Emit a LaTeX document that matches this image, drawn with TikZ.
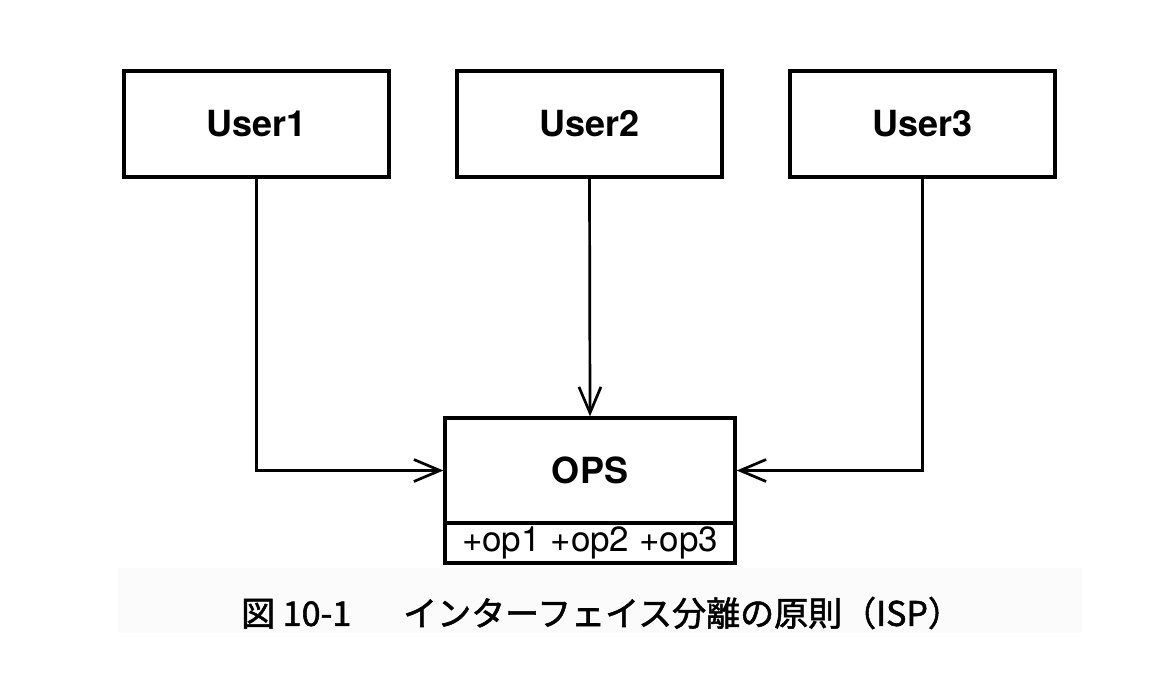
\documentclass[tikz,border=0pt]{standalone}
\usepackage{fontspec}
\setmainfont{TeX Gyre Heros}
\newfontfamily\cjk{Noto Sans CJK JP}
\usetikzlibrary{arrows.meta}
\begin{document}
\begin{tikzpicture}[x=1pt,y=-1pt,
  box/.style={draw, line width=3.3pt, minimum width=265pt, minimum height=106pt, inner sep=0pt, font=\fontsize{36}{40}\selectfont\bfseries},
  opsbox/.style={draw, line width=3.3pt, minimum width=290pt, minimum height=105pt, inner sep=0pt, font=\fontsize{36}{40}\selectfont\bfseries},
  opsmeth/.style={draw, line width=3.3pt, minimum width=290pt, minimum height=40pt, inner sep=0pt, font=\fontsize{35}{38}\selectfont},
  conn/.style={line width=2.7pt, -{Straight Barb[length=26pt,width=22pt,line width=2.7pt]}},
  caption/.style={font=\cjk\addfontfeatures{FakeBold=1.6}\fontsize{34}{38}\selectfont, inner sep=0pt, anchor=west}]
\useasboundingbox (0,0) rectangle (1174,672);
\fill[black!1.5] (118,568) rectangle (1082,633);
\node[box] (u1) at (256.5,124) {User1};
\node[box] (u2) at (589.5,124) {User2};
\node[box] (u3) at (922.5,124) {User3};
\node[opsbox] (ops) at (590,470.5) {OPS};
\node[opsmeth, anchor=north, outer sep=0pt, yshift=1.65pt] (meth) at (ops.south) {+op1 +op2 +op3};
\draw[conn] (u1.south) |- (ops.west);
\draw[conn] (u2.south) -- (ops.north);
\draw[conn] (u3.south) |- (ops.east);
\node[caption] (cap) at (241,613) {図 10-1\hspace{52pt}インターフェイス分離の原則（ISP）};
\end{tikzpicture}
\end{document}
